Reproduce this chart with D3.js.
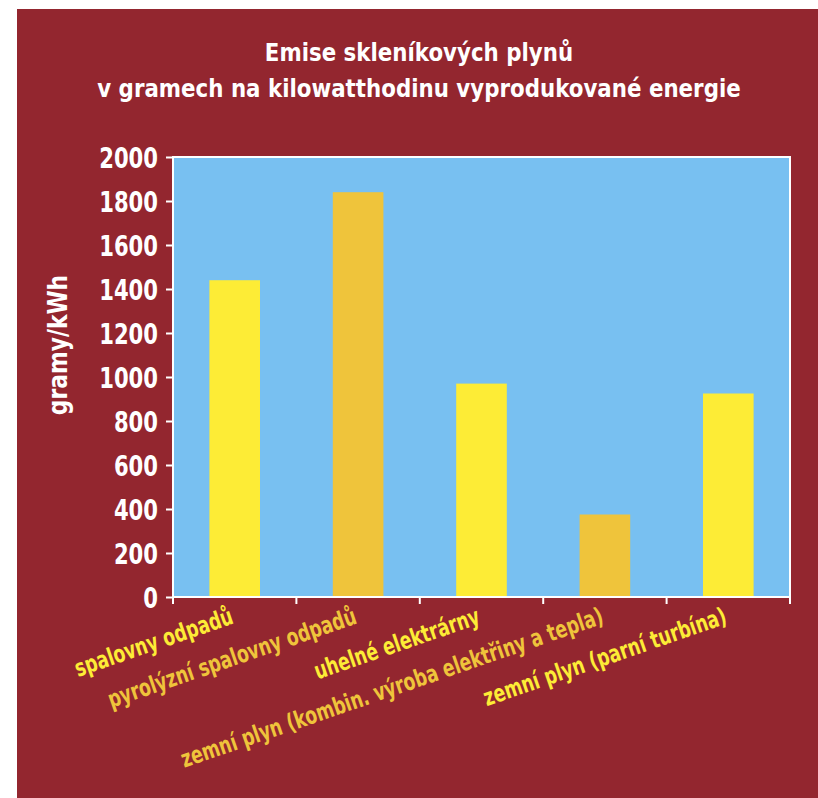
<!DOCTYPE html>
<html>
<head>
<meta charset="utf-8">
<script src="https://cdn.jsdelivr.net/npm/d3@7"></script>
<style>
  body { margin: 0; background: #fff; }
  text { font-family: "DejaVu Sans Condensed", "DejaVu Sans", sans-serif; font-stretch: condensed; font-weight: bold; }
</style>
</head>
<body>
<div id="chart"></div>
<script>
// data
var categories = [
  "spalovny odpadů",
  "pyrolýzní spalovny odpadů",
  "uhelné elektrárny",
  "zemní plyn (kombin. výroba elektřiny a tepla)",
  "zemní plyn (parní turbína)"
];
var values = [1440, 1840, 970, 375, 925];
var yTicks = [0, 200, 400, 600, 800, 1000, 1200, 1400, 1600, 1800, 2000];
var titleLines = ["Emise skleníkových plynů", "v gramech na kilowatthodinu vyprodukované energie"];

var width = 818, height = 798;
var margin = {top: 157, right: 28, bottom: 201, left: 173};

var svg = d3.select("#chart")
  .append("svg")
    .attr("width", width)
    .attr("height", height);

// red background
svg.append("rect")
  .attr("x", 17).attr("y", 9)
  .attr("width", width - 17).attr("height", height - 9)
  .attr("fill", "#93262f");

// title (squeezed a bit to look like a narrow face)
var tScale = 0.95;
svg.selectAll(".title")
  .data(titleLines)
  .enter()
  .append("text")
    .attr("class", "title")
    .attr("x", 419 / tScale)
    .attr("y", function(d, i) { return 61 + i * 36; })
    .attr("transform", "scale(" + tScale + ",1)")
    .attr("text-anchor", "middle")
    .attr("fill", "#fff")
    .style("font-size", "25px")
    .text(function(d) { return d; });

var x = d3.scaleBand()
  .domain(categories)
  .range([margin.left, width - margin.right])
  .paddingInner(0.59)
  .paddingOuter(0.295);

var y = d3.scaleLinear()
  .domain([0, 2000])
  .range([height - margin.bottom, margin.top]);

// plot background
svg.append("rect")
  .attr("x", margin.left)
  .attr("y", y(2000))
  .attr("width", width - margin.right - margin.left)
  .attr("height", y(0) - y(2000))
  .attr("fill", "#78c0f1")
  .attr("stroke", "#fff")
  .attr("stroke-width", 2);

// bars
svg.selectAll(".bar")
  .data(values)
  .enter()
  .append("rect")
    .attr("class", "bar")
    .attr("x", function(d, i) { return x(categories[i]); })
    .attr("y", function(d) { return y(d); })
    .attr("width", x.bandwidth())
    .attr("height", function(d) { return y(0) - y(d) - 1; })
    .attr("fill", function(d, i) { return i % 2 ? "#efc43b" : "#fdec36"; });

// y axis
var yScaleX = 0.81;
var yAxis = svg.append("g")
  .attr("transform", "translate(" + margin.left + ",0)")
  .call(d3.axisLeft(y).tickValues(yTicks).tickFormat(d3.format("d")).tickSize(7));
yAxis.select(".domain").remove();
yAxis.selectAll("line").attr("stroke", "#fff").attr("stroke-width", 2);
yAxis.selectAll("text")
  .attr("fill", "#fff")
  .attr("x", -15 / yScaleX)
  .attr("dy", "0.36em")
  .attr("transform", "scale(" + yScaleX + ",1)")
  .style("font-size", "29px");

// x axis ticks at band edges
var edges = categories.map(function(c) { return x(c) - x.step() * x.paddingInner() / 2; })
  .concat([width - margin.right]);
svg.selectAll(".xtick")
  .data(edges)
  .enter()
  .append("line")
    .attr("x1", function(d) { return d; })
    .attr("x2", function(d) { return d; })
    .attr("y1", y(0))
    .attr("y2", y(0) + 7)
    .attr("stroke", "#fff")
    .attr("stroke-width", 2);

// x labels
svg.selectAll(".xlabel")
  .data(categories)
  .enter()
  .append("text")
    .attr("class", "xlabel")
    .attr("text-anchor", "end")
    .attr("transform", function(d) {
      return "translate(" + (x(d) + x.bandwidth() / 2) + "," + (y(0) + 26) + ") rotate(-19) scale(0.8,1)";
    })
    .attr("fill", function(d, i) { return i % 2 ? "#efc43b" : "#fdec36"; })
    .style("font-size", "24px")
    .text(function(d) { return d; });

// y label
svg.append("text")
  .attr("transform", "translate(67,345) rotate(-90) scale(0.9,1)")
  .attr("text-anchor", "middle")
  .attr("fill", "#fff")
  .style("font-size", "27px")
  .text("gramy/kWh");
</script>
</body>
</html>
